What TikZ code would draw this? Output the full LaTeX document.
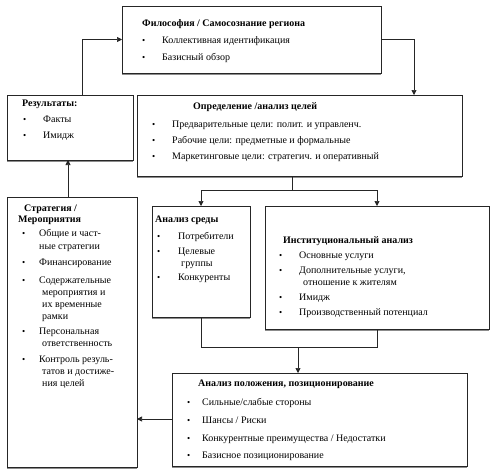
\documentclass[tikz,border=0pt]{standalone}
\usepackage{fontspec}
\setmainfont{Liberation Serif}
\usetikzlibrary{arrows.meta}
\newcommand\itm[5]{\node[bul] (#1-b) at (#2,#4) {•}; \node[txt] (#1) at (#3,#4) {#5};}
\newcommand\lin[4]{\node[txt] (#1) at (#2,#3) {#4};}
\newcommand\ttl[4]{\node[ttlsty] (#1) at (#2,#3) {#4};}
\begin{document}
\begin{tikzpicture}[x=1pt,y=-1pt,
  box/.style={draw=black!85, line width=0.7pt, inner sep=0pt, outer sep=0pt, anchor=north west, fill=white},
  shd/.style={draw=black!45, line width=1.3pt},
  ln/.style={draw=black!85, line width=0.7pt},
  arr/.style={draw=black!85, line width=0.7pt, -{Triangle[length=5pt,width=5pt]}},
  ttlsty/.style={font=\bfseries, anchor=base west, inner sep=0pt},
  txt/.style={anchor=base west, inner sep=0pt},
  bul/.style={anchor=base west, inner sep=0pt, font=\small}]
\useasboundingbox (0,0) rectangle (500,475);

% boxes
\node[box, minimum width=259pt, minimum height=67pt] (P) at (122,6) {};
\node[box, minimum width=325pt, minimum height=81pt] (G) at (137,95) {};
\node[box, minimum width=126pt, minimum height=65pt] (R) at (7,95) {};
\node[box, minimum width=98pt, minimum height=111pt] (E) at (152,206) {};
\node[box, minimum width=224pt, minimum height=123pt] (I) at (265,206) {};
\node[box, minimum width=295pt, minimum height=93pt] (S) at (172,373) {};
\node[box, minimum width=130pt, minimum height=270pt] (T) at (7,197) {};

% shadows
\foreach \b in {P,G,R,E,I,S,T}{
  \draw[shd] ([yshift=-1.2pt]\b.south west) -- ([yshift=-1.2pt]\b.south east);
}

% connectors
\draw[arr] ([xshift=12pt]R.north) |- (P.west);
\draw[arr] (P.east) -| ([xshift=114.5pt]G.north);
\coordinate (gs) at ([xshift=-7.5pt, yshift=-14pt]G.south);
\draw[ln] ([xshift=-7.5pt]G.south) -- (gs);
\draw[arr] (gs) -| (E.north);
\draw[arr] (gs) -| (I.north);
\coordinate (jn) at (298,347);
\draw[ln] (E.south) |- (jn);
\draw[ln] (I.south) |- (jn);
\draw[arr] (jn) -- (jn |- S.north);
\draw[arr] ([yshift=0.5pt]S.west) -- ([yshift=0.5pt]S.west -| T.east);
\draw[arr] ([xshift=-4pt]T.north) -- ([xshift=-4pt]T.north |- R.south);

% texts: Philosophy
\ttl{Pt}{142}{26}{Философия / Самосознание региона}
\itm{P1}{142}{162}{43}{Коллективная идентификация}
\itm{P2}{142}{162}{60}{Базисный обзор}

% Goals
\ttl{Gt}{193}{109}{Определение /анализ целей}
\itm{G1}{152}{172}{127}{Предварительные цели: полит. и управленч.}
\itm{G2}{152}{172}{143}{Рабочие цели: предметные и формальные}
\itm{G3}{152}{172}{159}{Маркетинговые цели: стратегич. и оперативный}

% Results
\ttl{Rt}{22}{106}{Результаты:}
\itm{R1}{23}{43}{122}{Факты}
\itm{R2}{23}{43}{138}{Имидж}

% Strategy
\ttl{Tt}{24}{211}{Стратегия /}
\ttl{Tt2}{18}{222}{Мероприятия}
\itm{T1}{22}{39}{236}{Общие и част-}
\lin{T1a}{39}{249}{ные стратегии}
\itm{T2}{22}{39}{265}{Финансирование}
\itm{T3}{22}{39}{283}{Содержательные}
\lin{T3a}{42}{295}{мероприятия и}
\lin{T3b}{42}{307}{их временные}
\lin{T3c}{42}{319}{рамки}
\itm{T4}{22}{39}{334}{Персональная}
\lin{T4a}{42}{346}{ответственность}
\itm{T5}{22}{39}{362}{Контроль резуль-}
\lin{T5a}{42}{374}{татов и достиже-}
\lin{T5b}{42}{386}{ния целей}

% Environment
\ttl{Et}{155}{222}{Анализ среды}
\itm{E1}{157}{178}{239}{Потребители}
\itm{E2}{157}{178}{254}{Целевые}
\lin{E2a}{181}{266}{группы}
\itm{E3}{157}{178}{280}{Конкуренты}

% Institutional
\ttl{It}{283}{243}{Институциональный анализ}
\itm{I1}{279}{299}{258}{Основные услуги}
\itm{I2}{279}{299}{273}{Дополнительные услуги,}
\lin{I2a}{303}{285}{отношение к жителям}
\itm{I3}{279}{299}{300}{Имидж}
\itm{I4}{279}{299}{315}{Производственный потенциал}

% Position
\ttl{St}{198}{386}{Анализ положения, позиционирование}
\itm{S1}{187}{202}{405}{Сильные/слабые стороны}
\itm{S2}{187}{202}{423}{Шансы / Риски}
\itm{S3}{187}{202}{441}{Конкурентные преимущества / Недостатки}
\itm{S4}{187}{202}{458}{Базисное позиционирование}
\end{tikzpicture}
\end{document}
